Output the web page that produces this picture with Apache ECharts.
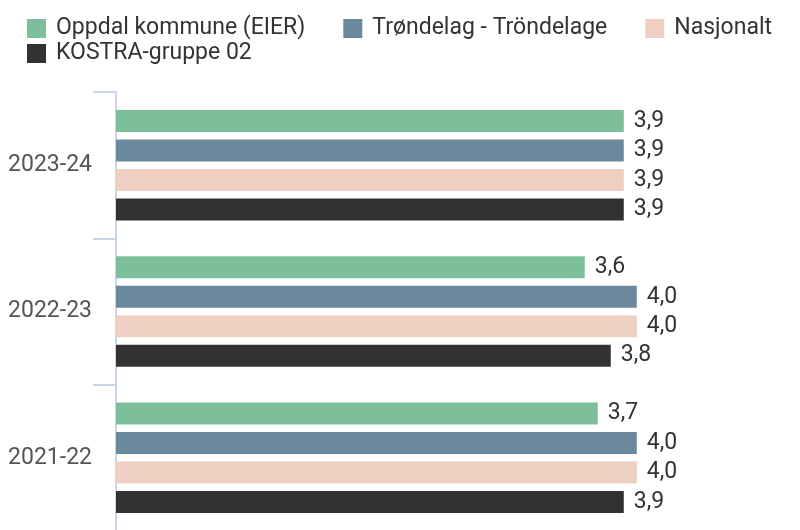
<!DOCTYPE html>
<html>
<head>
<meta charset="utf-8">
<script src="https://cdn.jsdelivr.net/npm/echarts@6/dist/echarts.min.js"></script>
<style>
    html, body { margin: 0; padding: 0; background: #fff; }
    #chart { width: 800px; height: 530px; }
</style>
</head>
<body>
<div id="chart"></div>
<script>
// skoleår, ovenfra og ned
const years = ['2023-24', '2022-23', '2021-22'];

const seriesNames = ['Oppdal kommune (EIER)', 'Trøndelag - Tröndelage', 'Nasjonalt', 'KOSTRA-gruppe 02'];
const seriesColors = ['#7cbf9a', '#6b889d', '#eecfc1', '#323232'];

const oppdal = [3.9, 3.6, 3.7];
const trondelag = [3.9, 4.0, 4.0];
const nasjonalt = [3.9, 4.0, 4.0];
const kostra = [3.9, 3.8, 3.9];

const values = [oppdal, trondelag, nasjonalt, kostra];

const font = 'Roboto, "Noto Sans", sans-serif';

let chartDom = document.getElementById('chart');
let myChart = echarts.init(chartDom);

let legendBase = {
    orient: 'horizontal',
    left: 22,
    itemWidth: 19,
    itemHeight: 19,
    itemGap: 38,
    icon: 'rect',
    textStyle: { fontFamily: font, fontSize: 23, color: '#333', padding: [0, 0, 0, 5] }
};

let option = {
    animation: false,
    legend: [
        Object.assign({}, legendBase, { top: 12, data: seriesNames.slice(0, 3) }),
        Object.assign({}, legendBase, { top: 37, data: seriesNames.slice(3) })
    ],
    grid: {
        left: 116,
        right: 33,
        top: 92,
        height: 439,
        outerBoundsMode: 'none',
        containLabel: false
    },
    xAxis: {
        type: 'value',
        min: 0,
        max: 5,
        show: false
    },
    yAxis: {
        type: 'category',
        data: years,
        inverse: true,
        axisLine: { show: true, lineStyle: { color: '#ccd6eb', width: 2 } },
        axisTick: { show: true, length: 23, lineStyle: { color: '#ccd6eb', width: 2 } },
        axisLabel: { margin: 24, fontFamily: font, fontSize: 23, color: '#555' }
    },
    series: seriesNames.map((name, i) => ({
        name: name,
        type: 'bar',
        data: values[i],
        barWidth: 22,
        barGap: '34%',
        itemStyle: { color: seriesColors[i] },
        label: {
            show: true,
            position: 'right',
            distance: 10,
            fontFamily: font,
            fontSize: 23,
            color: '#333',
            formatter: p => p.value.toFixed(1).replace('.', ',')
        }
    }))
};

option && myChart.setOption(option);
</script>
</body>
</html>
